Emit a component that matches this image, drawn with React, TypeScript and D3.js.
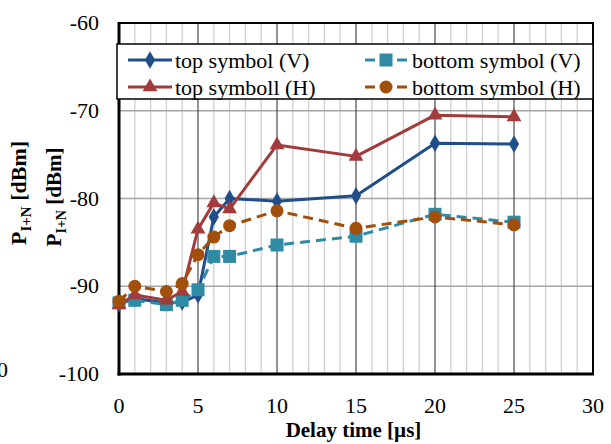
import React from "react";
import * as d3 from "d3";

const delays = [0, 1, 3, 4, 5, 6, 7, 10, 15, 20, 25];
const topV = [-92.0, -91.4, -91.9, -91.8, -91.0, -82.1, -80.0, -80.3, -79.7, -73.7, -73.8];
const botV = [-91.9, -91.6, -92.1, -91.6, -90.4, -86.6, -86.6, -85.3, -84.3, -81.8, -82.7];
const topH = [-92.1, -91.0, -91.6, -90.6, -83.5, -80.5, -81.2, -73.9, -75.2, -70.5, -70.7];
const botH = [-91.7, -90.0, -90.6, -89.7, -86.4, -84.4, -83.1, -81.4, -83.4, -82.1, -83.0];
const seriesNames = ["top symbol (V)", "bottom symbol (V)", "top symboll (H)", "bottom symbol (H)"];
const xTicks = [0, 5, 10, 15, 20, 25, 30];
const yTicks = [-100, -90, -80, -70, -60];

const FONT = '"Liberation Serif", Tinos, "Times New Roman", Times, serif';

type Marker = "diamond" | "square" | "triangle" | "circle";
const styles: { color: string; dash: string | undefined; marker: Marker }[] = [
  { color: "#1F4E89", dash: undefined, marker: "diamond" },
  { color: "#2E8BA3", dash: "10,6", marker: "square" },
  { color: "#A23B3B", dash: undefined, marker: "triangle" },
  { color: "#A14F0B", dash: "10,6", marker: "circle" },
];

function MarkerShape({ kind, x, y, color }: { kind: Marker; x: number; y: number; color: string }) {
  if (kind === "diamond") {
    const s = d3.symbol(d3.symbolDiamond, 90)();
    return <path d={s || ""} transform={`translate(${x},${y})`} fill={color} />;
  }
  if (kind === "square") {
    return <rect x={x - 6.5} y={y - 6.5} width={13} height={13} fill={color} />;
  }
  if (kind === "triangle") {
    const s = d3.symbol(d3.symbolTriangle, 95)();
    return <path d={s || ""} transform={`translate(${x},${y})`} fill={color} />;
  }
  return <circle cx={x} cy={y} r={6.5} fill={color} />;
}

const T = (props: any) => <text {...props} style={{ fontFamily: FONT }} />;

export default function App() {
  const W = 611, H = 444;
  const x = d3.scaleLinear().domain([0, 30]).range([119, 593]);
  const y = d3.scaleLinear().domain([-100, -60]).range([374, 23]);
  const data = [topV, botV, topH, botH];
  const line = d3
    .line<[number, number]>()
    .x((d) => x(d[0]))
    .y((d) => y(d[1]));

  const minor = d3.range(1, 30).filter((v) => v % 5 !== 0);
  const major = [5, 10, 15, 20, 25];
  const hGrid = [-90, -80, -70];

  const legendPos = [
    { lx: 128, tx: 175, cy: 60 },
    { lx: 365, tx: 412, cy: 60 },
    { lx: 128, tx: 175, cy: 87 },
    { lx: 365, tx: 412, cy: 87 },
  ];

  return (
    <svg width={W} height={H} style={{ position: "absolute", left: 0, top: 0, background: "#fff" }}>
      <rect x={0} y={0} width={W} height={H} fill="#fff" />
      {minor.map((v) => (
        <line key={"mn" + v} x1={x(v)} x2={x(v)} y1={y(-60)} y2={y(-100)} stroke="#CFCFCF" strokeWidth={1.3} />
      ))}
      {hGrid.map((v) => (
        <line key={"h" + v} x1={x(0)} x2={x(30)} y1={y(v)} y2={y(v)} stroke="#A6A6A6" strokeWidth={1.6} />
      ))}
      {major.map((v) => (
        <line key={"mj" + v} x1={x(v)} x2={x(v)} y1={y(-60)} y2={y(-100)} stroke="#262626" strokeWidth={1} />
      ))}
      <rect x={x(0)} y={y(-60)} width={x(30) - x(0)} height={y(-100) - y(-60)} fill="none" stroke="#000" strokeWidth={2} />
      <line x1={x(0)} x2={x(0)} y1={y(-60) - 1} y2={y(-100) + 1.5} stroke="#000" strokeWidth={3} />
      <line x1={x(0) - 1.5} x2={x(30) + 1} y1={y(-100)} y2={y(-100)} stroke="#000" strokeWidth={3} />

      {data.map((vals, i) => {
        const pts: [number, number][] = delays.map((d, j) => [d, vals[j]]);
        const st = styles[i];
        return (
          <g key={"s" + i}>
            <path d={line(pts) || ""} fill="none" stroke={st.color} strokeWidth={3} strokeDasharray={st.dash} strokeLinejoin="round" />
            {pts.map((p, j) => (
              <MarkerShape key={j} kind={st.marker} x={x(p[0])} y={y(p[1])} color={st.color} />
            ))}
          </g>
        );
      })}

      <rect x={117} y={44} width={476} height={55} fill="#fff" stroke="#000" strokeWidth={1.5} />
      {seriesNames.map((name, i) => {
        const lp = legendPos[i];
        const st = styles[i];
        return (
          <g key={"l" + i}>
            {st.dash ? (
              <>
                <line x1={lp.lx} x2={lp.lx + 10} y1={lp.cy} y2={lp.cy} stroke={st.color} strokeWidth={3} />
                <line x1={lp.lx + 32} x2={lp.lx + 42} y1={lp.cy} y2={lp.cy} stroke={st.color} strokeWidth={3} />
              </>
            ) : (
              <line x1={lp.lx} x2={lp.lx + 44} y1={lp.cy} y2={lp.cy} stroke={st.color} strokeWidth={3} />
            )}
            <MarkerShape kind={st.marker} x={st.dash ? lp.lx + 21 : lp.lx + 22} y={lp.cy} color={st.color} />
            <T x={lp.tx} y={lp.cy + 7.5} fontSize={22} fill="#000">
              {name}
            </T>
          </g>
        );
      })}

      {yTicks.map((v) => (
        <T key={"yt" + v} x={99} y={y(v) + 7} fontSize={22} textAnchor="end" fill="#000">
          {v}
        </T>
      ))}
      {xTicks.map((v) => (
        <T key={"xt" + v} x={x(v)} y={413} fontSize={22} textAnchor="middle" fill="#000">
          {v}
        </T>
      ))}
      <T x={353.5} y={437} fontSize={21} fontWeight="bold" textAnchor="middle" fill="#000">
        Delay time [µs]
      </T>
      <T transform="translate(26,193) rotate(-90)" fontSize={22} fontWeight="bold" textAnchor="middle" fill="#000">
        P<tspan fontSize={15} dy={5}>I+N</tspan>
        <tspan dy={-5}> [dBm]</tspan>
      </T>
      <T transform="translate(61,197) rotate(-90)" fontSize={21} fontWeight="bold" textAnchor="middle" fill="#000">
        P<tspan fontSize={14} dy={5}>I+N</tspan>
        <tspan dy={-5}> [dBm]</tspan>
      </T>
      <T x={8} y={377} fontSize={22} textAnchor="end" fill="#000">
        0
      </T>
    </svg>
  );
}
